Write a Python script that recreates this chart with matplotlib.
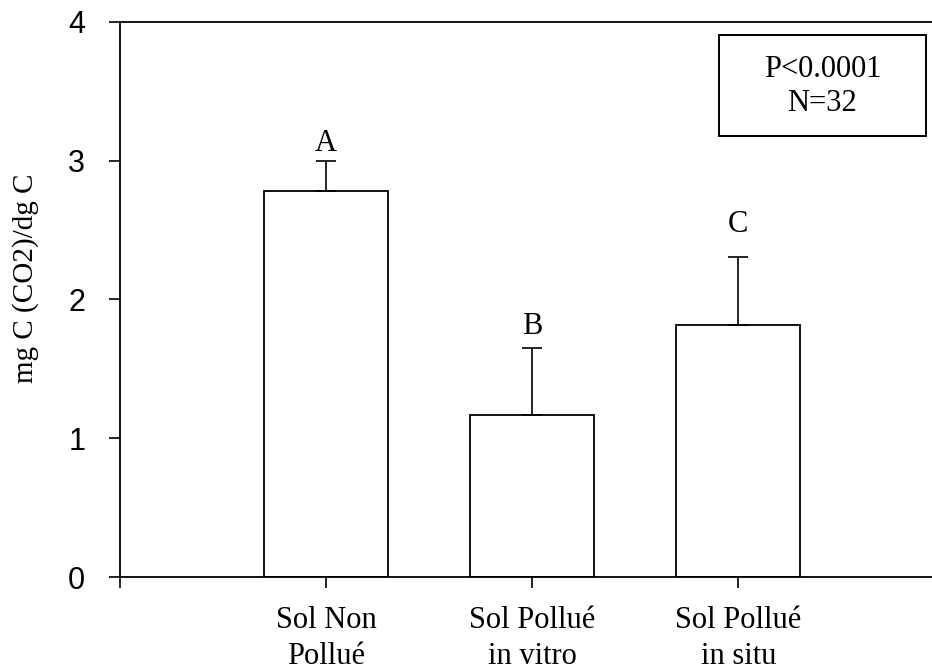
import numpy as np
import matplotlib.pyplot as plt
from matplotlib.patches import Rectangle

plt.rcParams['font.family'] = 'Liberation Serif'

categories = ['Sol Non\nPollué', 'Sol Pollué\nin vitro', 'Sol Pollué\nin situ']
means = [2.78, 1.17, 1.815]
errors = [0.22, 0.48, 0.49]
letters = ['A', 'B', 'C']
letter_pad = [2, 5, 13]   # points above the error cap
stats_lines = ['P<0.0001', 'N=32']

fig = plt.figure(figsize=(9.32, 6.70), dpi=100)
ax = fig.add_axes([0.1288, 0.1388, 0.8712, 0.8284])

x = np.arange(len(categories))
ax.bar(x, means, width=0.6, color='white', edgecolor='black', linewidth=1.3, zorder=2)
ax.errorbar(x, means, yerr=[np.zeros(len(means)), errors], fmt='none',
            ecolor='black', elinewidth=1.2, capsize=7, capthick=1.2, zorder=3)

for xi, m, e, lab, pad in zip(x, means, errors, letters, letter_pad):
    ax.annotate(lab, (xi, m + e), xytext=(0, pad), textcoords='offset points',
                ha='center', va='bottom', fontsize=22)

ax.set_xlim(-1, 2.94)
ax.set_ylim(0, 4)
ax.set_yticks([0, 1, 2, 3, 4])
ax.set_yticklabels(['0', '1', '2', '3', '4'], family='Liberation Sans', fontsize=22)
ax.set_xticks([-1, 0, 1, 2])
ax.set_xticklabels([''] + categories, fontsize=22, linespacing=1.3)
ax.tick_params(axis='y', direction='out', length=8, width=1.2, pad=17)
ax.tick_params(axis='x', direction='out', length=8, width=1.2, pad=13)

for s in ['left', 'bottom', 'top']:
    ax.spines[s].set_linewidth(1.3)
ax.spines['right'].set_visible(False)

fig.text(26 / 932, 1 - 278 / 670, 'mg C (CO2)/dg C', rotation=90,
         ha='center', va='center', fontsize=21)

# stats box in the upper right corner
ax.add_patch(Rectangle((0.7377, 0.7946), 0.2549, 0.182, transform=ax.transAxes,
                       fill=False, edgecolor='black', linewidth=1.4, clip_on=False))
ax.text(0.865, 0.9135, stats_lines[0], transform=ax.transAxes,
        ha='center', va='center', fontsize=22)
ax.text(0.865, 0.854, stats_lines[1], transform=ax.transAxes,
        ha='center', va='center', fontsize=22)

plt.savefig('out.png', dpi=100)
